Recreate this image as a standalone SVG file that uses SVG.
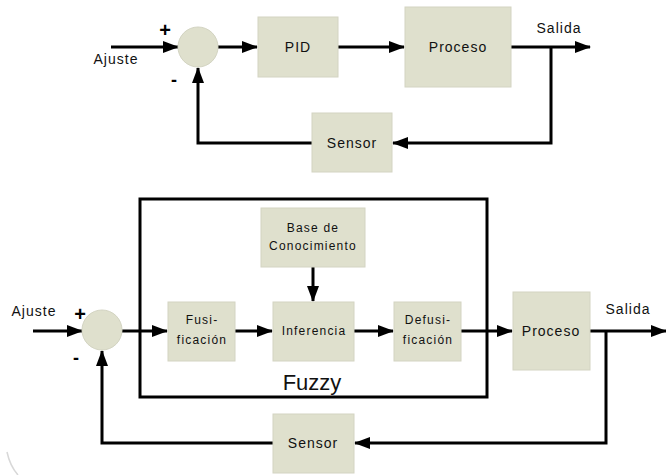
<svg xmlns="http://www.w3.org/2000/svg" width="666" height="475" viewBox="0 0 666 475">
<style>
.box{fill:#dfe0cd;stroke:#d3d4c2;stroke-width:1}
.ln{fill:none;stroke:#000;stroke-width:3}
.t{font-family:"Liberation Sans",Arial,sans-serif;font-size:14px;fill:#111;text-anchor:middle;letter-spacing:1px}
.s{font-family:"Liberation Sans",Arial,sans-serif;font-size:12px;fill:#111;text-anchor:middle;letter-spacing:1.2px}
.sg{font-family:"Liberation Sans",Arial,sans-serif;font-weight:bold;fill:#000;text-anchor:middle}
</style>
<defs>
<marker id="ah" markerUnits="userSpaceOnUse" markerWidth="16" markerHeight="12" refX="15" refY="6" orient="auto">
<path d="M0,0 L16,6 L0,12 Z" fill="#000"/>
</marker>
</defs>
<rect width="666" height="475" fill="#fff"/>
<path d="M7,452 Q10,466 18,475" fill="none" stroke="#d8d8d8" stroke-width="1.5"/>

<g id="connectors">
<line class="ln" x1="111" y1="47" x2="178" y2="47" marker-end="url(#ah)"/>
<line class="ln" x1="218" y1="47" x2="257" y2="47" marker-end="url(#ah)"/>
<line class="ln" x1="338" y1="47" x2="404" y2="47" marker-end="url(#ah)"/>
<line class="ln" x1="511" y1="47" x2="590" y2="47" marker-end="url(#ah)"/>
<polyline class="ln" points="551,47 551,143 393,143" marker-end="url(#ah)"/>
<polyline class="ln" points="312,143 198,143 198,68" marker-end="url(#ah)"/>
<rect x="140" y="199" width="347" height="198" fill="none" stroke="#000" stroke-width="3"/>
<line class="ln" x1="33" y1="331" x2="82" y2="331" marker-end="url(#ah)"/>
<line class="ln" x1="122" y1="331" x2="167" y2="331" marker-end="url(#ah)"/>
<line class="ln" x1="235" y1="331" x2="272" y2="331" marker-end="url(#ah)"/>
<line class="ln" x1="354" y1="331" x2="393" y2="331" marker-end="url(#ah)"/>
<line class="ln" x1="461" y1="331" x2="512" y2="331" marker-end="url(#ah)"/>
<line class="ln" x1="590" y1="331" x2="666" y2="331" marker-end="url(#ah)"/>
<line class="ln" x1="313" y1="267" x2="313" y2="301" marker-end="url(#ah)"/>
<polyline class="ln" points="606,331 606,443 355,443" marker-end="url(#ah)"/>
<polyline class="ln" points="273,443 102,443 102,351" marker-end="url(#ah)"/>
</g>

<g id="sum1"><circle cx="198" cy="47" r="20" class="box"/></g>
<g id="pid"><rect class="box" x="258" y="17" width="80" height="60"/><text class="t" x="298" y="52">PID</text></g>
<g id="proceso1"><rect class="box" x="405" y="7" width="106" height="80"/><text class="t" x="458" y="52" letter-spacing="1.5">Proceso</text></g>
<g id="sensor1"><rect class="box" x="312" y="113" width="80" height="59"/><text class="t" x="352" y="148">Sensor</text></g>
<g id="labels1">
<text class="t" x="116" y="64" letter-spacing="0.5">Ajuste</text>
<text class="t" x="559" y="33">Salida</text>
<text class="sg" x="165" y="37" font-size="20">+</text>
<text class="sg" x="174" y="86" font-size="18">-</text>
</g>

<g id="sum2"><circle cx="102" cy="330" r="20" class="box"/></g>
<g id="base"><rect class="box" x="261" y="208" width="104" height="59"/><text class="s" x="313" y="232">Base de</text><text class="s" x="313" y="250">Conocimiento</text></g>
<g id="fusi"><rect class="box" x="168" y="302" width="67" height="59"/><text class="s" x="202" y="324">Fusi-</text><text class="s" x="202" y="344">ficación</text></g>
<g id="inferencia"><rect class="box" x="273" y="302" width="81" height="59"/><text class="s" x="314" y="335">Inferencia</text></g>
<g id="defusi"><rect class="box" x="394" y="302" width="67" height="59"/><text class="s" x="428" y="324">Defusi-</text><text class="s" x="428" y="344">ficación</text></g>
<g id="proceso2"><rect class="box" x="513" y="292" width="77" height="78"/><text class="t" x="551" y="336" letter-spacing="1.5">Proceso</text></g>
<g id="sensor2"><rect class="box" x="273" y="414" width="81" height="59"/><text class="t" x="313" y="448" letter-spacing="1.2">Sensor</text></g>
<g id="labels2">
<text class="t" x="34" y="316" letter-spacing="0.5">Ajuste</text>
<text class="t" x="628" y="314">Salida</text>
<text class="sg" x="80" y="321" font-size="20">+</text>
<text class="sg" x="76" y="364" font-size="18">-</text>
<text x="312" y="390" font-family="Liberation Sans,Arial,sans-serif" font-size="22" fill="#111" text-anchor="middle">Fuzzy</text>
</g>
</svg>
